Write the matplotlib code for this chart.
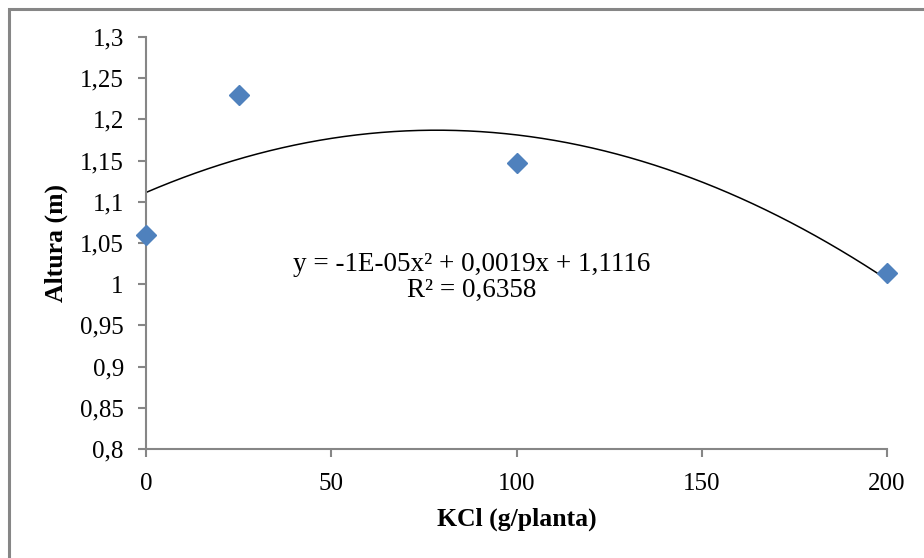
import matplotlib.pyplot as plt
import numpy as np
from matplotlib.patches import Rectangle

# Data
kcl = [0, 25, 100, 200]
altura = [1.06, 1.23, 1.147, 1.013]
x_ticks = [0, 50, 100, 150, 200]
y_ticks = [0.8, 0.85, 0.9, 0.95, 1.0, 1.05, 1.1, 1.15, 1.2, 1.25, 1.3]
y_labels = ["0,8", "0,85", "0,9", "0,95", "1", "1,05", "1,1", "1,15", "1,2", "1,25", "1,3"]

plt.rcParams["font.family"] = ["Liberation Serif", "DejaVu Serif"]

fig = plt.figure(figsize=(9.24, 5.58), dpi=100)
ax = fig.add_axes([146 / 924, 1 - 449 / 558, (887 - 146) / 924, (449 - 37) / 558])

gray = "#868686"

# Quadratic trendline (fit of the points, as Excel does)
coef = np.polyfit(kcl, altura, 2)
xs = np.linspace(0, 200, 300)
ax.plot(xs, np.polyval(coef, xs), color="black", lw=1.1, zorder=2)

ax.plot(kcl, altura, "D", color="#4F81BD", markersize=10.5, mec="#4F81BD",
        zorder=3, clip_on=False)

ax.set_xlim(0, 200)
ax.set_ylim(0.8, 1.3)
ax.set_xticks(x_ticks)
ax.set_xticklabels([str(t) for t in x_ticks])
ax.set_yticks(y_ticks)
ax.set_yticklabels(y_labels)

for side in ["top", "right"]:
    ax.spines[side].set_visible(False)
for side in ["left", "bottom"]:
    ax.spines[side].set_color(gray)
    ax.spines[side].set_linewidth(1.5)
ax.tick_params(direction="out", length=6, width=1.5, color=gray, labelsize=18)
ax.tick_params(axis="y", pad=10)
ax.tick_params(axis="x", pad=11)

ax.set_xlabel("KCl (g/planta)", fontsize=18.5, fontweight="bold")
ax.set_ylabel("Altura (m)", fontsize=18.5, fontweight="bold")
ax.xaxis.set_label_coords(0.5, (449 - 519) / 412, transform=ax.transAxes)
ax.yaxis.set_label_coords((56 - 146) / 741, 0.5, transform=ax.transAxes)
ax.xaxis.label.set_va("center")
ax.yaxis.label.set_va("center")

ax.text(0.44, 0.449, "y = -1E-05x² + 0,0019x + 1,1116",
        transform=ax.transAxes, ha="center", va="center", fontsize=19.5)
ax.text(0.44, 0.384, "R² = 0,6358",
        transform=ax.transAxes, ha="center", va="center", fontsize=19.5)

# Outer chart border (only top and left edges fall inside the image)
fig.patches.append(Rectangle((8.5 / 924, -0.05), 1.1, 1.05 - 8.5 / 558,
                             transform=fig.transFigure, fill=False,
                             edgecolor=gray, lw=2.2))

fig.savefig("out.png", dpi=100)
